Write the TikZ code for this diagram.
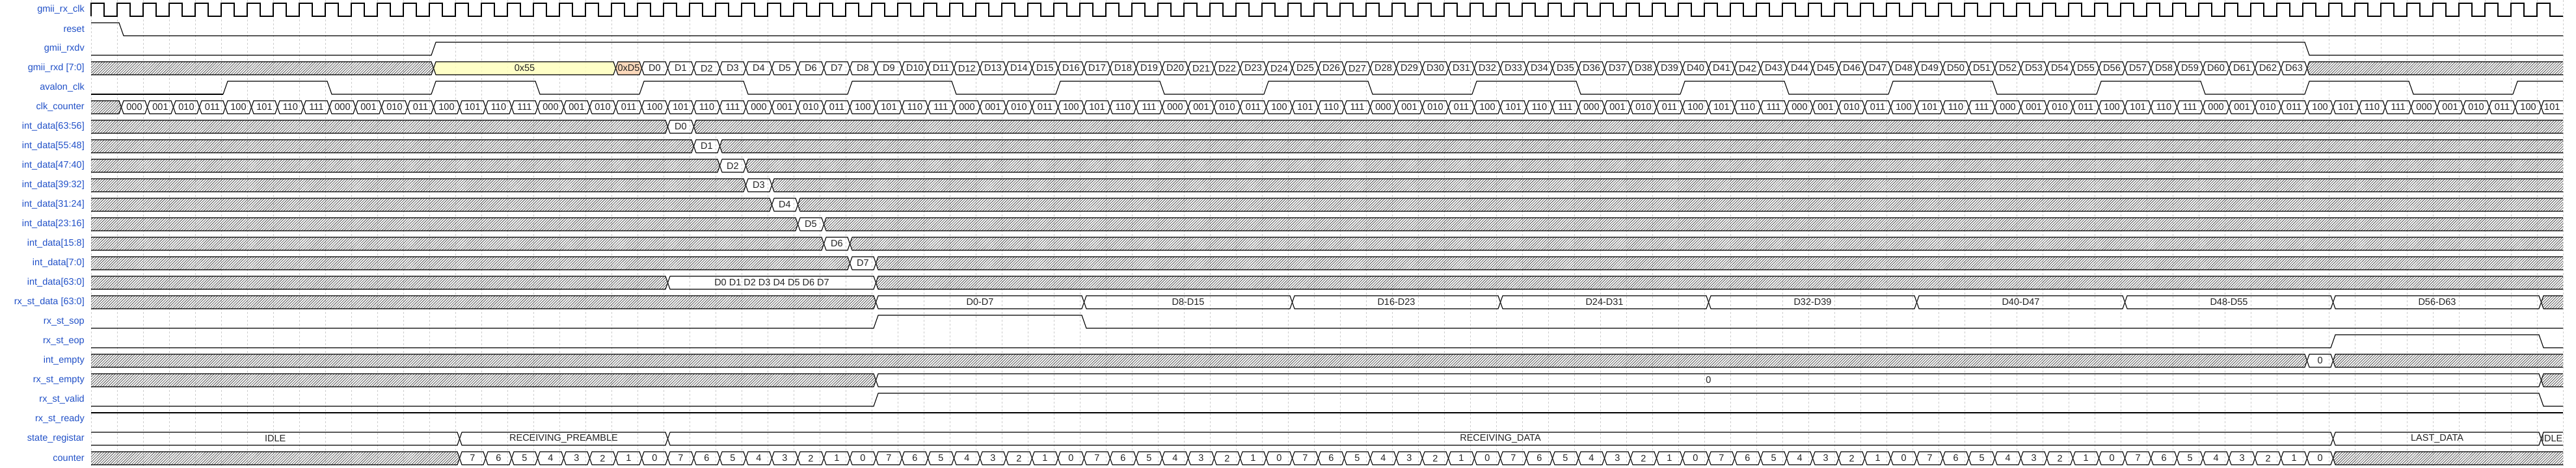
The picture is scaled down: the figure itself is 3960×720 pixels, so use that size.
\documentclass[tikz,border=0pt]{standalone}
\usepackage{fontspec}
\setmainfont{Liberation Sans}
\usetikzlibrary{patterns.meta}
\definecolor{labblue}{RGB}{32,80,200}
\definecolor{valtxt}{RGB}{34,34,34}
\definecolor{yelfill}{RGB}{255,255,190}
\definecolor{orgfill}{RGB}{252,213,180}
\definecolor{gridc}{RGB}{205,205,205}
\definecolor{hatchc}{RGB}{80,80,80}

\pgfmathdeclarefunction{wx}{1}{\pgfmathparse{140+40*#1}}
\pgfmathdeclarefunction{wyh}{1}{\pgfmathparse{-5-30*#1}}
\pgfmathdeclarefunction{wyl}{1}{\pgfmathparse{-25-30*#1}}
\pgfmathdeclarefunction{wym}{1}{\pgfmathparse{-15-30*#1}}

\tikzset{
  sig/.style={line width=1.1pt, black, line join=miter},
  gridline/.style={gridc, line width=0.8pt, dash pattern=on 3pt off 3pt},
  hatch/.style={pattern={Lines[angle=45,distance=2.9pt,line width=0.8pt]}, pattern color=hatchc},
  plain/.style={fill=none},
  yel/.style={fill=yelfill, fill opacity=0.85},
  org/.style={fill=orgfill, fill opacity=0.9},
  lab/.style={text=labblue, anchor=east, inner sep=0pt, font=\fontsize{14.5}{17}\selectfont},
  val/.style={text=valtxt, inner sep=0pt, font=\fontsize{14.5}{17}\selectfont},
}

% bus segment: row, t1, t2, fill style, text
\newcommand{\seg}[5]{%
  \pgfmathsetmacro{\sgYh}{-5-30*#1}%
  \pgfmathsetmacro{\sgYl}{-25-30*#1}%
  \pgfmathsetmacro{\sgYm}{-15-30*#1}%
  \pgfmathsetmacro{\sgXl}{140+40*#2}%
  \pgfmathsetmacro{\sgXr}{140+40*#3}%
  \ifnum#2=0 \def\sgLt{0}\def\sgLc{0}\else\def\sgLt{6.5}\def\sgLc{10}\fi
  \ifnum#3=95 \def\sgRt{0}\def\sgRc{0}\else\def\sgRt{6.5}\def\sgRc{3}\fi
  \fill[#4] ({\sgXl+\sgLt},\sgYm) -- ({\sgXl+\sgLc},\sgYh) -- ({\sgXr+\sgRc},\sgYh) -- ({\sgXr+\sgRt},\sgYm) -- ({\sgXr+\sgRc},\sgYl) -- ({\sgXl+\sgLc},\sgYl) -- cycle;
  \ifnum#2=0
    \ifnum#3=95
      \draw[sig] (\sgXl,\sgYh) -- (\sgXr,\sgYh);
      \draw[sig] (\sgXl,\sgYl) -- (\sgXr,\sgYl);
    \else
      \draw[sig] (\sgXl,\sgYh) -- ({\sgXr+3},\sgYh) -- ({\sgXr+6.5},\sgYm) -- ({\sgXr+3},\sgYl) -- (\sgXl,\sgYl);
    \fi
  \else
    \ifnum#3=95
      \draw[sig] (\sgXr,\sgYh) -- ({\sgXl+10},\sgYh) -- ({\sgXl+6.5},\sgYm) -- ({\sgXl+10},\sgYl) -- (\sgXr,\sgYl);
    \else
      \draw[sig] ({\sgXl+6.5},\sgYm) -- ({\sgXl+10},\sgYh) -- ({\sgXr+3},\sgYh) -- ({\sgXr+6.5},\sgYm) -- ({\sgXr+3},\sgYl) -- ({\sgXl+10},\sgYl) -- cycle;
    \fi
  \fi
  \node[val] at ({(\sgXl+\sgLt+\sgXr+\sgRt)/2},\sgYm) {#5};
}

% single-bit pulse: row, rise, fall
\newcommand{\pulse}[3]{%
  \draw[sig] ({wx(0)},{wyl(#1)}) -- ({wx(#2)+3},{wyl(#1)}) -- ({wx(#2)+10},{wyh(#1)}) -- ({wx(#3)+3},{wyh(#1)}) -- ({wx(#3)+10},{wyl(#1)}) -- ({wx(95)},{wyl(#1)});
}

\begin{document}
\begin{tikzpicture}[x=1pt,y=1pt]
\fill[white] (0,0) rectangle (3960,-720);
\useasboundingbox (0,0) rectangle (3960,-720);

% grid
\foreach \k in {0,...,95} { \draw[gridline] ({wx(\k)},0) -- ({wx(\k)},-720); }

% labels
\node[lab] (n0) at (130,{wym(0)}) {gmii\_rx\_clk};
\node[lab] (n1) at (130,{wym(1)}) {reset};
\node[lab] (n2) at (130,{wym(2)}) {gmii\_rxdv};
\node[lab] (n3) at (130,{wym(3)}) {gmii\_rxd [7:0]};
\node[lab] (n4) at (130,{wym(4)}) {avalon\_clk};
\node[lab] (n5) at (130,{wym(5)}) {clk\_counter};
\node[lab] (n6) at (130,{wym(6)}) {int\_data[63:56]};
\node[lab] (n7) at (130,{wym(7)}) {int\_data[55:48]};
\node[lab] (n8) at (130,{wym(8)}) {int\_data[47:40]};
\node[lab] (n9) at (130,{wym(9)}) {int\_data[39:32]};
\node[lab] (n10) at (130,{wym(10)}) {int\_data[31:24]};
\node[lab] (n11) at (130,{wym(11)}) {int\_data[23:16]};
\node[lab] (n12) at (130,{wym(12)}) {int\_data[15:8]};
\node[lab] (n13) at (130,{wym(13)}) {int\_data[7:0]};
\node[lab] (n14) at (130,{wym(14)}) {int\_data[63:0]};
\node[lab] (n15) at (130,{wym(15)}) {rx\_st\_data [63:0]};
\node[lab] (n16) at (130,{wym(16)}) {rx\_st\_sop};
\node[lab] (n17) at (130,{wym(17)}) {rx\_st\_eop};
\node[lab] (n18) at (130,{wym(18)}) {int\_empty};
\node[lab] (n19) at (130,{wym(19)}) {rx\_st\_empty};
\node[lab] (n20) at (130,{wym(20)}) {rx\_st\_valid};
\node[lab] (n21) at (130,{wym(21)}) {rx\_st\_ready};
\node[lab] (n22) at (130,{wym(22)}) {state\_registar};
\node[lab] (n23) at (130,{wym(23)}) {counter};

% row 0: gmii_rx_clk
\draw[sig] ({wx(0)},{wyl(0)}) \foreach \k in {0,...,94} { -- ({wx(\k)},{wyh(0)}) -- ({wx(\k)+20},{wyh(0)}) -- ({wx(\k)+20},{wyl(0)}) -- ({wx(\k)+40},{wyl(0)}) };

% row 1: reset
\draw[sig] ({wx(0)},{wyh(1)}) -- ({wx(1)+3},{wyh(1)}) -- ({wx(1)+10},{wyl(1)}) -- ({wx(95)},{wyl(1)});

% row 2: gmii_rxdv
\pulse{2}{13}{85}

% row 3: gmii_rxd
\seg{3}{0}{13}{hatch}{}
\seg{3}{13}{20}{yel}{0x55}
\seg{3}{20}{21}{org}{0xD5}
\foreach \k in {0,...,63} {
  \pgfmathtruncatemacro\ti{21+\k}\pgfmathtruncatemacro\tn{22+\k}
  \seg{3}{\ti}{\tn}{plain}{D\k}
}
\seg{3}{85}{95}{hatch}{}

% row 4: avalon_clk
\draw[sig] ({wx(0)},{wyl(4)}) -- ({wx(5)+3},{wyl(4)});
\foreach \r in {5,13,...,85} {
  \draw[sig] ({wx(\r)+3},{wyl(4)}) -- ({wx(\r)+10},{wyh(4)}) -- ({wx(\r+4)+3},{wyh(4)}) -- ({wx(\r+4)+10},{wyl(4)}) -- ({wx(\r+8)+3},{wyl(4)});
}
\draw[sig] ({wx(93)+3},{wyl(4)}) -- ({wx(93)+10},{wyh(4)}) -- ({wx(95)},{wyh(4)});

% row 5: clk_counter
\seg{5}{0}{1}{hatch}{}
\foreach \ti in {1,...,94} {
  \pgfmathtruncatemacro\tn{\ti+1}
  \pgfmathtruncatemacro\cv{mod(\ti-1,8)}
  \pgfmathtruncatemacro\bA{floor(\cv/4)}
  \pgfmathtruncatemacro\bB{mod(floor(\cv/2),2)}
  \pgfmathtruncatemacro\bC{mod(\cv,2)}
  \seg{5}{\ti}{\tn}{plain}{\bA\bB\bC}
}

% rows 6-13: int_data bytes
\foreach \k in {0,...,7} {
  \pgfmathtruncatemacro\rw{6+\k}
  \pgfmathtruncatemacro\ti{22+\k}
  \pgfmathtruncatemacro\tn{23+\k}
  \seg{\rw}{0}{\ti}{hatch}{}
  \seg{\rw}{\ti}{\tn}{plain}{D\k}
  \seg{\rw}{\tn}{95}{hatch}{}
}

% row 14: int_data[63:0]
\seg{14}{0}{22}{hatch}{}
\seg{14}{22}{30}{plain}{D0 D1 D2 D3 D4 D5 D6 D7}
\seg{14}{30}{95}{hatch}{}

% row 15: rx_st_data
\seg{15}{0}{30}{hatch}{}
\foreach \j in {0,...,7} {
  \pgfmathtruncatemacro\ti{30+8*\j}
  \pgfmathtruncatemacro\tn{38+8*\j}
  \pgfmathtruncatemacro\da{8*\j}
  \pgfmathtruncatemacro\db{8*\j+7}
  \seg{15}{\ti}{\tn}{plain}{D\da-D\db}
}
\seg{15}{94}{95}{hatch}{}

% row 16, 17: sop, eop
\pulse{16}{30}{38}
\pulse{17}{86}{94}

% row 18: int_empty
\seg{18}{0}{85}{hatch}{}
\seg{18}{85}{86}{plain}{0}
\seg{18}{86}{95}{hatch}{}

% row 19: rx_st_empty
\seg{19}{0}{30}{hatch}{}
\seg{19}{30}{94}{plain}{0}
\seg{19}{94}{95}{hatch}{}

% row 20: rx_st_valid
\pulse{20}{30}{94}

% row 21: rx_st_ready
\draw[sig] ({wx(0)},{wyh(21)}) -- ({wx(95)},{wyh(21)});

% row 22: state_registar
\seg{22}{0}{14}{plain}{IDLE}
\seg{22}{14}{22}{plain}{RECEIVING\_PREAMBLE}
\seg{22}{22}{86}{plain}{RECEIVING\_DATA}
\seg{22}{86}{94}{plain}{LAST\_DATA}
\seg{22}{94}{95}{plain}{IDLE}

% row 23: counter
\seg{23}{0}{14}{hatch}{}
\foreach \ti in {14,...,85} {
  \pgfmathtruncatemacro\tn{\ti+1}
  \pgfmathtruncatemacro\cv{7-mod(\ti-14,8)}
  \seg{23}{\ti}{\tn}{plain}{\cv}
}
\seg{23}{86}{95}{hatch}{}
\end{tikzpicture}
\end{document}
